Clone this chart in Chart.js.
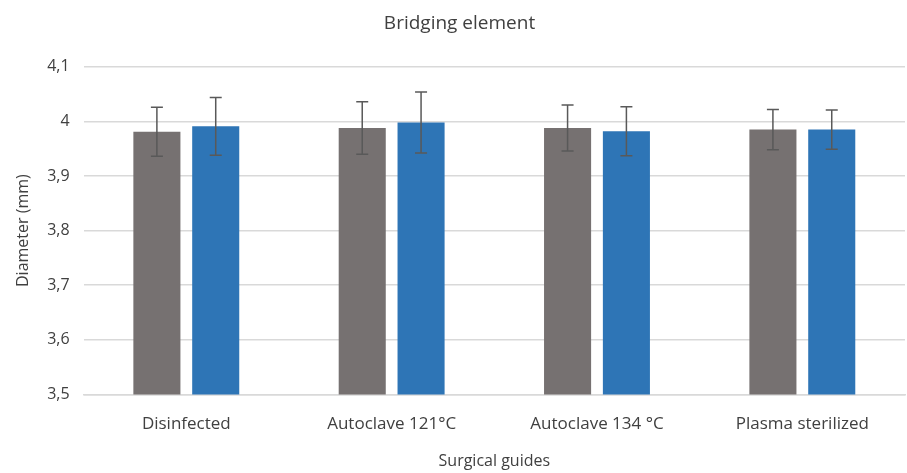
<!DOCTYPE html>
<html>
<head>
<meta charset="utf-8">
<script src="https://cdn.jsdelivr.net/npm/chart.js@4/dist/chart.umd.min.js"></script>
<style>
  html, body { margin: 0; padding: 0; background: #fff; }
  #wrap { width: 907px; height: 473px; }
</style>
</head>
<body>
<div id="wrap"><canvas id="c" width="907" height="473"></canvas></div>
<script>
const categories = ["Disinfected", "Autoclave 121°C", "Autoclave 134 °C", "Plasma sterilized"];
const seriesA = [3.981, 3.988, 3.988, 3.985];
const seriesAErr = [0.045, 0.048, 0.042, 0.037];
const seriesB = [3.991, 3.998, 3.982, 3.985];
const seriesBErr = [0.053, 0.056, 0.045, 0.036];

const textColor = "#404040";
const font = "'Open Sans', 'Noto Sans', sans-serif";

// draws the error bars on top of each bar
const errorBars = {
  id: "errorBars",
  afterDatasetsDraw(chart) {
    const ctx = chart.ctx;
    const y = chart.scales.y;
    ctx.save();
    ctx.strokeStyle = "#595959";
    ctx.lineWidth = 1.5;
    chart.data.datasets.forEach((ds, i) => {
      const meta = chart.getDatasetMeta(i);
      meta.data.forEach((bar, j) => {
        const v = ds.data[j], e = ds.errors[j];
        const top = y.getPixelForValue(v + e);
        const bot = y.getPixelForValue(v - e);
        ctx.beginPath();
        ctx.moveTo(bar.x, top); ctx.lineTo(bar.x, bot);
        ctx.moveTo(bar.x - 6, top); ctx.lineTo(bar.x + 6, top);
        ctx.moveTo(bar.x - 6, bot); ctx.lineTo(bar.x + 6, bot);
        ctx.stroke();
      });
    });
    ctx.restore();
  }
};

new Chart(document.getElementById("c"), {
  type: "bar",
  data: {
    labels: categories,
    datasets: [
      {
        data: seriesA,
        errors: seriesAErr,
        backgroundColor: "#767171",
        categoryPercentage: 0.573,
        barPercentage: 0.8,
      },
      {
        data: seriesB,
        errors: seriesBErr,
        backgroundColor: "#2E75B6",
        categoryPercentage: 0.573,
        barPercentage: 0.8,
      },
    ],
  },
  options: {
    responsive: false,
    animation: false,
    layout: { padding: { left: 14, right: 2, top: 4, bottom: 2 } },
    scales: {
      y: {
        min: 3.5,
        max: 4.1,
        ticks: {
          stepSize: 0.1,
          color: textColor,
          font: { family: font, size: 16 },
          padding: 14,
          callback: (v) => String(Math.round(v * 10) / 10).replace(".", ","),
        },
        grid: { color: "#d9d9d9", lineWidth: 1.5, drawTicks: false },
        border: { display: false },
        title: {
          display: true,
          text: "Diameter (mm)",
          color: textColor,
          font: { family: font, size: 16 },
          padding: { top: 0, bottom: 0 },
        },
      },
      x: {
        ticks: {
          color: textColor,
          font: { family: font, size: 17 },
          padding: 12,
        },
        grid: { display: false },
        border: { color: "#d9d9d9", width: 1.5 },
        title: {
          display: true,
          text: "Surgical guides",
          color: textColor,
          font: { family: font, size: 16 },
          padding: { top: 5, bottom: 0 },
        },
      },
    },
    plugins: {
      legend: { display: false },
      tooltip: { enabled: false },
      title: {
        display: true,
        text: "Bridging element",
        color: textColor,
        font: { family: font, size: 19, weight: "normal" },
        padding: { top: 8, bottom: 32 },
      },
    },
  },
  plugins: [errorBars],
});
</script>
</body>
</html>
